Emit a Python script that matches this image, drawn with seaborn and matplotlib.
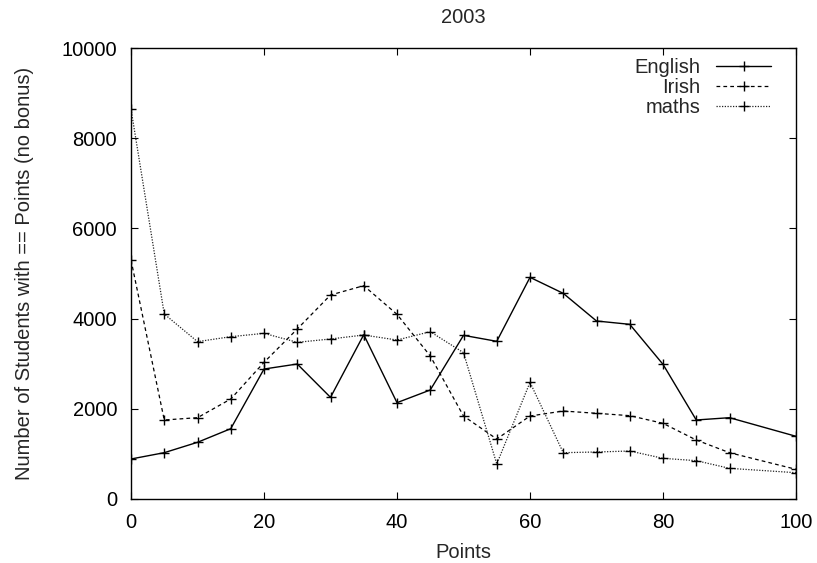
import matplotlib
matplotlib.use("Agg")
import matplotlib.pyplot as plt
import seaborn as sns
import pandas as pd

points = [0, 5, 10, 15, 20, 25, 30, 35, 40, 45, 50, 55, 60, 65, 70, 75, 80, 85, 90, 100]
english = [887, 1027, 1257, 1559, 2882, 2993, 2254, 3643, 2136, 2417, 3629, 3496, 4915, 4560, 3947, 3873, 2986, 1752, 1803, 1390]
irish = [5300, 1752, 1803, 2217, 3030, 3769, 4523, 4730, 4095, 3171, 1840, 1330, 1840, 1951, 1900, 1848, 1678, 1308, 1027, 658]
maths = [8647, 4102, 3489, 3599, 3673, 3474, 3548, 3636, 3525, 3710, 3245, 776, 2587, 1027, 1042, 1064, 902, 850, 680, 583]
series_names = ["English", "Irish", "maths"]
title = "2003"
xlabel = "Points"
ylabel = "Number of Students with == Points (no bonus)"

sns.set_style("ticks")
plt.rcParams["font.family"] = ["Liberation Sans", "DejaVu Sans"]
FS = 14.5

fig = plt.figure(figsize=(8.17, 5.63), dpi=100)
ax = fig.add_axes([131/817, 64/563, 665/817, 451/563])

styles = {
    "English": dict(linestyle="-", color="black", lw=1.0),
    "Irish": dict(linestyle=(0, (3, 2.5)), color="black", lw=0.9),
    "maths": dict(linestyle=(0, (1, 1.2)), color="#222222", lw=0.9),
}
data = {"English": english, "Irish": irish, "maths": maths}
for name in series_names:
    df = pd.DataFrame({"Points": points, "Count": data[name]})
    st = styles[name]
    sns.lineplot(data=df, x="Points", y="Count", ax=ax, color=st["color"],
                 linestyle=st["linestyle"], lw=st["lw"], marker="+",
                 markersize=6.5, markeredgewidth=1.0, markeredgecolor="black",
                 label=name)

ax.set_xlim(0, 100)
ax.set_ylim(0, 10000)
ax.set_xticks(range(0, 101, 20))
ax.set_yticks(range(0, 10001, 2000))
ax.tick_params(direction="in", length=5, width=0.8, top=True, right=True,
               labelsize=FS, colors="black", pad=10)
for s in ax.spines.values():
    s.set_color("black")
    s.set_linewidth(1.0)
ax.set_title(title, fontsize=FS, pad=18)
ax.set_xlabel(xlabel, fontsize=FS, labelpad=8)
ax.set_ylabel(ylabel, fontsize=FS, labelpad=20)

leg = ax.legend(loc="upper right", frameon=False, markerfirst=False,
                fontsize=FS, handlelength=2.75, handletextpad=0.75,
                labelspacing=0.05, borderaxespad=0.5, numpoints=1,
                bbox_to_anchor=(0.99, 1.018))
for t in leg.get_texts():
    t.set_ha("right")

fig.savefig("out.png", dpi=100)
